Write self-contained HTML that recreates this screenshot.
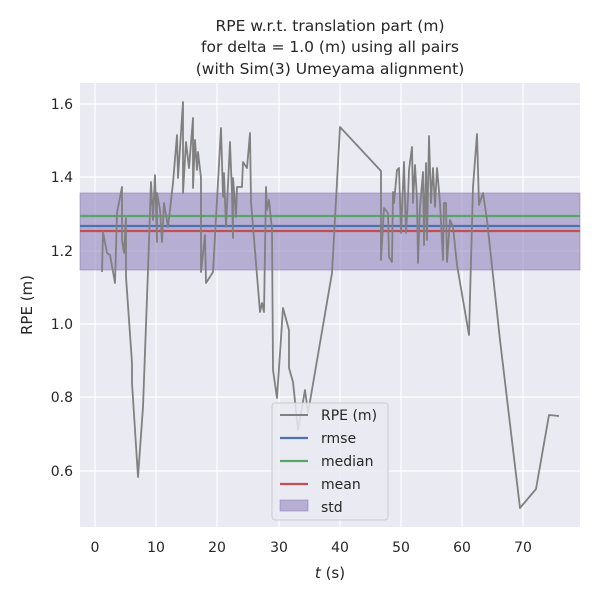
<!DOCTYPE html><html><head><style>body{margin:0;background:#fff}svg{font-family:"DejaVu Sans","Liberation Sans",sans-serif}</style></head><body>
<svg width="600" height="600" xmlns="http://www.w3.org/2000/svg">
<rect x="80" y="83" width="500" height="444" fill="#eaeaf2"/>
<g stroke="#fff" stroke-width="1.2">
<line x1="95" y1="83" x2="95" y2="527"/><line x1="156" y1="83" x2="156" y2="527"/><line x1="217" y1="83" x2="217" y2="527"/><line x1="279" y1="83" x2="279" y2="527"/><line x1="340" y1="83" x2="340" y2="527"/><line x1="401" y1="83" x2="401" y2="527"/><line x1="462" y1="83" x2="462" y2="527"/><line x1="523" y1="83" x2="523" y2="527"/>
<line x1="80" y1="104" x2="580" y2="104"/><line x1="80" y1="177" x2="580" y2="177"/><line x1="80" y1="251" x2="580" y2="251"/><line x1="80" y1="324" x2="580" y2="324"/><line x1="80" y1="397" x2="580" y2="397"/><line x1="80" y1="471" x2="580" y2="471"/>
</g>
<rect x="80" y="193" width="500" height="77" fill="#8172b3" fill-opacity="0.5" stroke="#8172b3" stroke-opacity="0.5"/>
<line x1="80" y1="216" x2="580" y2="216" stroke="#55a868" stroke-width="2.2"/>
<line x1="80" y1="226" x2="580" y2="226" stroke="#4c72b0" stroke-width="2.2"/>
<line x1="80" y1="231" x2="580" y2="231" stroke="#c44e52" stroke-width="2.2"/>
<polyline fill="none" stroke="#808080" stroke-width="1.8" stroke-linejoin="round" points="102,272 103,232 107,253 110,255 115,283 117,213 122,187 122,240 124,253 126,218 126,277 132,363 132,383 138,477 143,407 148,270 151,182 153,220 155,175 157,242 157,193 160,210 162,242 164,203 168,227 173,183 177,135 178,178 183,102 183,193 186,142 189,168 193,118 193,188 195,140 197,170 198,152 201,178 201,272 205,235 206,283 213,272 217,200 221,128 223,197 224,173 226,227 230,142 232,195 233,238 233,178 236,217 237,187 242,187 243,162 247,168 250,133 251,202 260,312 262,303 264,312 266,187 267,210 269,200 272,230 273,370 277,398 283,308 289,330 289,368 293,382 298,430 305,390 308,413 332,273 340,127 381,171 381,260 384,208 388,213 389,257 392,262 393,192 394,203 397,170 399,168 401,233 404,162 406,233 408,198 409,170 412,147 413,203 415,165 417,200 418,263 420,207 423,172 424,245 426,163 427,240 429,136 431,203 433,168 435,207 437,168 440,203 443,260 444,203 446,203 447,262 450,220 453,227 457,265 469,335 473,187 477,134 479,205 483,193 487,220 500,340 520,508 536,489 549,415 559,416"/>
<g font-size="14" fill="#262626">
<g text-anchor="end"><text x="73" y="109">1.6</text><text x="73" y="182">1.4</text><text x="73" y="256">1.2</text><text x="73" y="329">1.0</text><text x="73" y="402">0.8</text><text x="73" y="476">0.6</text></g>
<g text-anchor="middle"><text x="95" y="552">0</text><text x="156" y="552">10</text><text x="217" y="552">20</text><text x="279" y="552">30</text><text x="340" y="552">40</text><text x="401" y="552">50</text><text x="462" y="552">60</text><text x="523" y="552">70</text>
<text x="330" y="578" font-size="15"><tspan font-style="italic">t</tspan> (s)</text>
<text x="330" y="31" font-size="15.5">RPE w.r.t. translation part (m)</text>
<text x="330" y="52" font-size="15.5">for delta = 1.0 (m) using all pairs</text>
<text x="330" y="74" font-size="15.5">(with Sim(3) Umeyama alignment)</text></g>
<text transform="translate(32,305) rotate(-90)" text-anchor="middle" font-size="15">RPE (m)</text>
</g>
<rect x="272" y="403" width="116" height="117" rx="3" fill="#eaeaf2" fill-opacity="0.85" stroke="#ccc"/>
<line x1="280" y1="415" x2="308" y2="415" stroke="#808080" stroke-width="2"/>
<line x1="280" y1="438" x2="308" y2="438" stroke="#4c72b0" stroke-width="2.2"/>
<line x1="280" y1="461" x2="308" y2="461" stroke="#55a868" stroke-width="2.2"/>
<line x1="280" y1="484" x2="308" y2="484" stroke="#c44e52" stroke-width="2.2"/>
<rect x="280" y="500" width="28" height="11" fill="#8172b3" fill-opacity="0.5" stroke="#8172b3" stroke-opacity="0.5"/>
<g font-size="14" fill="#262626"><text x="321" y="420">RPE (m)</text><text x="321" y="443">rmse</text><text x="321" y="466">median</text><text x="321" y="489">mean</text><text x="321" y="512">std</text></g>
</svg></body></html>
